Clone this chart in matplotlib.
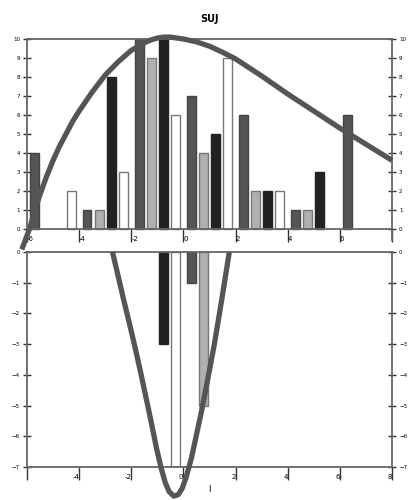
import matplotlib.pyplot as plt
import numpy as np

# group centres and the four bar series (upper panel)
group_x = np.array([-5, -3, -1, 1, 3, 5, 7])
dark_top = [4, 1, 10, 7, 6, 1, 6]
light_top = [0, 1, 9, 4, 2, 1, 0]
black_top = [0, 8, 10, 5, 2, 3, 0]
white_top = [2, 3, 6, 9, 2, 0, 0]

# lower panel bars
dark_bot = [0, 0, 0, -1, 0, 0, 0]
light_bot = [0, 0, 0, -5, 0, 0, 0]
black_bot = [0, 0, -3, 0, 0, 0, 0]
white_bot = [0, 0, -7, 0, 0, 0, 0]

# curves
curve_top_x = [-6.2, -5.9, -5.7, -5.5, -5.25, -5.0, -4.75, -4.5, -4.25, -4.0,
               -3.5, -3.0, -2.5, -2.0, -1.5, -1.25, -1.0, -0.75, -0.5, 0.0,
               0.5, 1.0, 1.5, 2.0, 3.0, 4.0, 5.0, 6.0, 7.0, 8.0]
curve_top_y = [-1.1, 0.0, 0.95, 1.8, 2.75, 3.6, 4.35, 5.0, 5.65, 6.2,
               7.2, 8.1, 8.8, 9.4, 9.8, 9.95, 10.05, 10.1, 10.1, 10.0,
               9.85, 9.62, 9.3, 8.95, 8.05, 7.1, 6.2, 5.3, 4.45, 3.6]
curve_bot_x = [-2.72, -2.5, -2.28, -2.05, -1.83, -1.62, -1.42, -1.22, -1.03,
               -0.85, -0.7, -0.55, -0.37, -0.2, -0.05, 0.1, 0.31, 0.5, 0.69,
               0.92, 1.18, 1.47, 1.76]
curve_bot_y = [0.0, -0.8, -1.6, -2.4, -3.2, -4.0, -4.8, -5.6, -6.4,
               -7.05, -7.5, -7.8, -7.95, -7.9, -7.7, -7.35, -6.7, -5.95, -5.2,
               -4.2, -3.03, -1.55, 0.0]

series_colors = ['#555555', '#b0b0b0', '#222222', '#ffffff']
edge_colors = ['#444444', '#777777', '#222222', '#777777']
offsets = [-0.7, -0.23, 0.23, 0.7]
width = 0.34
frame = '#666666'

fig = plt.figure(figsize=(4.12, 5.0), dpi=100)
ax1 = fig.add_axes([0.0655, 0.52, 0.886, 0.402])
ax2 = fig.add_axes([0.0655, 0.066, 0.886, 0.43])

for ax, data in [(ax1, [dark_top, light_top, black_top, white_top]),
                 (ax2, [dark_bot, light_bot, black_bot, white_bot])]:
    for vals, off, fc, ec in zip(data, offsets, series_colors, edge_colors):
        vals = np.array(vals)
        keep = vals != 0
        ax.bar(group_x[keep] + off, vals[keep], width=width, color=fc,
               edgecolor=ec, linewidth=1.0, zorder=2)
    ax.set_xlim(-6, 8)
    for s in ax.spines.values():
        s.set_color(frame)
        s.set_linewidth(1.3)
    ax.tick_params(axis='y', which='both', direction='inout', length=6,
                   width=1, color='#333333', labelsize=4, pad=2,
                   left=True, right=True, labelleft=True, labelright=True)

ax1.plot(curve_top_x, curve_top_y, color='#555555', lw=3.8, zorder=3,
         clip_on=False, solid_capstyle='butt', solid_joinstyle='round')
ax2.plot(curve_bot_x, curve_bot_y, color='#555555', lw=3.8, zorder=3,
         clip_on=False, solid_capstyle='butt', solid_joinstyle='round')

# upper panel
ax1.set_ylim(-0.6, 10)
ax1.set_yticks(range(0, 11))
ax1.spines['bottom'].set_position(('data', 0))
ax1.set_xticks([-6, -4, -2, 0, 2, 4, 6, 8])
ax1.set_xticklabels(['-6', '-4', '-2', '0', '2', '4', '6', ''])
ax1.tick_params(axis='x', direction='out', length=9, width=1, color='#333333',
                labelsize=5, pad=-4)
for lab in ax1.get_xticklabels():
    lab.set_horizontalalignment('left')
ax1.set_title('SUJ', fontsize=7, fontweight='bold', pad=12)

# lower panel
ax2.set_ylim(-7, 0)
ax2.set_yticks(range(-7, 1))
ax2.set_xticks([-6, -4, -2, 0, 2, 4, 6, 8])
ax2.set_xticklabels(['', '-4', '-2', '0', '2', '4', '6', '8'])
ax2.tick_params(axis='x', direction='out', length=9, width=1, color='#333333',
                labelsize=5, pad=-4)
for lab in ax2.get_xticklabels():
    lab.set_horizontalalignment('right')
ax2.set_xlabel('I', fontsize=6, labelpad=4)

fig.savefig('out.png', dpi=100)
